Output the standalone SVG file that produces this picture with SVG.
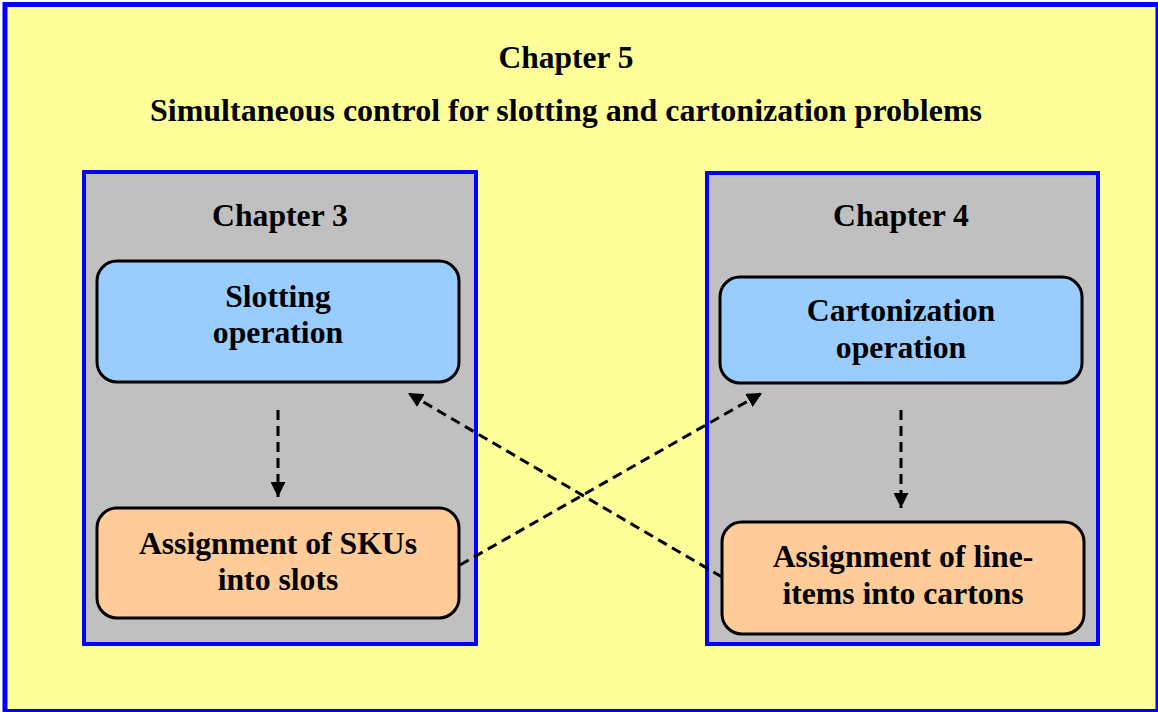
<svg xmlns="http://www.w3.org/2000/svg" width="1158" height="712" viewBox="0 0 1158 712">
<style>
text{font-family:"Liberation Serif","Times New Roman",serif;font-weight:bold;fill:#000;text-anchor:middle}
.t0{font-size:31.5px}
.t1{font-size:32px}
.t2{font-size:31.7px}
.ch{fill:#C0C0C0;stroke:#0000FF;stroke-width:4}
.op{fill:#99CCFF;stroke:#000;stroke-width:3}
.as{fill:#FFCC99;stroke:#000;stroke-width:3}
.cn{fill:none;stroke:#000;stroke-width:3;stroke-dasharray:10 6}
</style>
<defs>
<marker id="ah" viewBox="0 0 10 10" refX="10" refY="5" markerWidth="5" markerHeight="5" markerUnits="strokeWidth" orient="auto">
<path d="M0,0 L10,5 L0,10 Z" fill="#000"/>
</marker>
</defs>
<rect x="5" y="4.5" width="1153" height="707" fill="#FFFF99" stroke="#0000FF" stroke-width="5"/>
<g id="chapter5">
<text class="t0" x="566" y="68">Chapter 5</text>
<text class="t1" x="566" y="121">Simultaneous control for slotting and cartonization problems</text>
</g>
<g id="chapter3">
<rect class="ch" x="84" y="172" width="392" height="472"/>
<text class="t2" x="280" y="226">Chapter 3</text>
</g>
<g id="chapter4">
<rect class="ch" x="707" y="173" width="391" height="471"/>
<text class="t2" x="901" y="226">Chapter 4</text>
</g>
<g id="slotting">
<rect class="op" x="97" y="261" width="362" height="121" rx="20"/>
<text class="t2" x="278" y="307">Slotting</text>
<text class="t2" x="278" y="343">operation</text>
</g>
<g id="cartonization">
<rect class="op" x="720" y="277" width="362" height="106" rx="20"/>
<text class="t2" x="901" y="321">Cartonization</text>
<text class="t2" x="901" y="358">operation</text>
</g>
<g id="skus">
<rect class="as" x="97" y="508" width="362" height="110" rx="20"/>
<text class="t2" x="278" y="554">Assignment of SKUs</text>
<text class="t2" x="278" y="590">into slots</text>
</g>
<g id="lineitems">
<rect class="as" x="722" y="522" width="362" height="112" rx="20"/>
<text class="t2" x="903" y="567">Assignment of line-</text>
<text class="t2" x="903" y="604">items into cartons</text>
</g>
<g id="connectors">
<line class="cn" x1="278" y1="410" x2="278" y2="497" marker-end="url(#ah)"/>
<line class="cn" x1="901" y1="410" x2="901" y2="508" marker-end="url(#ah)"/>
<line class="cn" x1="460" y1="565" x2="762" y2="393" marker-end="url(#ah)"/>
<line class="cn" x1="722" y1="577" x2="408" y2="393" marker-end="url(#ah)"/>
</g>
</svg>
